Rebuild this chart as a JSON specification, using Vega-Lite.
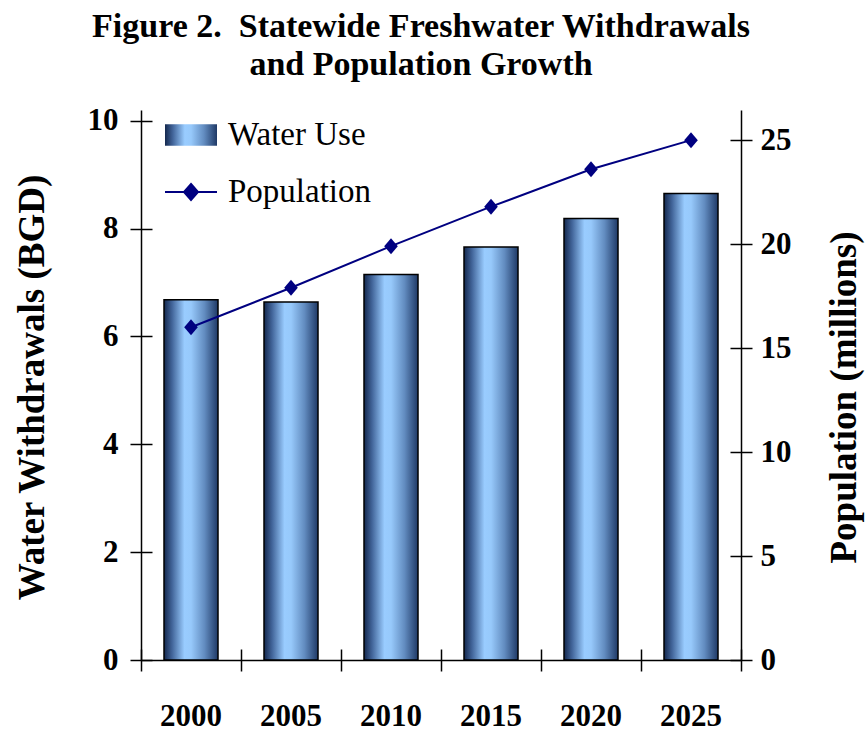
{
  "$schema": "https://vega.github.io/schema/vega-lite/v6.json",
  "autosize": "none",
  "padding": {"left": 141, "top": 110, "right": 124, "bottom": 72},
  "width": 600,
  "height": 550,
  "background": "white",
  "title": {
    "text": ["Figure 2.\u00a0 Statewide Freshwater Withdrawals", "and Population Growth"],
    "font": "Liberation Serif",
    "fontSize": 34,
    "fontWeight": "bold",
    "color": "black",
    "lineHeight": 38,
    "anchor": "middle",
    "dx": -20,
    "offset": 23
  },
  "data": {
    "values": [
      {"year": 2000, "water": 6.68, "population": 16.0},
      {"year": 2005, "water": 6.64, "population": 17.9},
      {"year": 2010, "water": 7.15, "population": 19.9},
      {"year": 2015, "water": 7.66, "population": 21.8},
      {"year": 2020, "water": 8.19, "population": 23.6},
      {"year": 2025, "water": 8.65, "population": 25.0}
    ]
  },
  "config": {
    "view": {"stroke": null},
    "axis": {
      "grid": false,
      "labelFont": "Liberation Serif",
      "titleFont": "Liberation Serif",
      "labelColor": "black",
      "titleColor": "black",
      "labelFontWeight": "bold",
      "titleFontWeight": "bold",
      "domainColor": "black",
      "tickColor": "black",
      "domainWidth": 1.5,
      "tickWidth": 1.5,
      "labelFontSize": 31,
      "titleFontSize": 37
    }
  },
  "layer": [
    {
      "mark": {
        "type": "bar",
        "stroke": "black",
        "strokeWidth": 1.5,
        "fill": {
          "gradient": "linear",
          "x1": 0, "y1": 0, "x2": 1, "y2": 0,
          "stops": [
            {"offset": 0, "color": "#14284e"},
            {"offset": 0.15, "color": "#42659a"},
            {"offset": 0.38, "color": "#99ccff"},
            {"offset": 0.5, "color": "#97c9fb"},
            {"offset": 0.75, "color": "#628cc0"},
            {"offset": 1, "color": "#1f3966"}
          ]
        }
      },
      "encoding": {
        "x": {
          "field": "year",
          "type": "ordinal",
          "scale": {"type": "band", "paddingInner": 0.46, "paddingOuter": 0.23},
          "axis": {
            "orient": "bottom",
            "title": null,
            "labelAngle": 0,
            "ticks": false,
            "tickSize": 0,
            "labelPadding": 41,
            "domain": true
          }
        },
        "y": {
          "field": "water",
          "type": "quantitative",
          "scale": {"domain": [0, 10.2], "nice": false, "zero": true},
          "axis": {
            "orient": "left",
            "values": [0, 2, 4, 6, 8, 10],
            "ticks": false,
            "tickSize": 0,
            "labelPadding": 23,
            "title": "Water Withdrawals (BGD)",
            "titleAngle": 270,
            "titleAlign": "center",
            "titleBaseline": "alphabetic",
            "titleX": -98,
            "titleY": 277
          }
        },
        "opacity": {
          "datum": "Water Use",
          "type": "ordinal",
          "scale": {"range": [1]},
          "legend": {
            "title": null,
            "orient": "none",
            "legendX": 23,
            "legendY": -2,
            "padding": 0,
            "labelFont": "Liberation Serif",
            "labelFontSize": 33,
            "labelFontWeight": "normal",
            "labelColor": "black",
            "labelOffset": 10,
            "labelLimit": 400,
            "symbolType": "M-1,-0.41H1V0.41H-1Z",
            "symbolSize": 2704,
            "symbolStrokeColor": "black",
            "symbolStrokeWidth": 1.5,
            "encode": {
              "symbols": {
                "update": {
                  "fill": {"value": {
                    "gradient": "linear",
                    "x1": 0, "y1": 0, "x2": 1, "y2": 0,
                    "stops": [
                      {"offset": 0, "color": "#14284e"},
                      {"offset": 0.15, "color": "#42659a"},
                      {"offset": 0.38, "color": "#99ccff"},
                      {"offset": 0.5, "color": "#97c9fb"},
                      {"offset": 0.75, "color": "#628cc0"},
                      {"offset": 1, "color": "#1f3966"}
                    ]
                  }},
                  "stroke": {"value": "black"},
                  "strokeWidth": {"value": 1.5},
                  "opacity": {"value": 1}
                }
              }
            }
          }
        }
      }
    },
    {
      "mark": {
        "type": "line",
        "strokeWidth": 2,
        "point": {
          "shape": "M-0.85,0L0,-1L0.85,0L0,1Z",
          "size": 256,
          "filled": true,
          "opacity": 1
        }
      },
      "encoding": {
        "x": {
          "field": "year",
          "type": "ordinal",
          "scale": {"type": "point", "padding": 0.5},
          "axis": null
        },
        "y": {
          "field": "population",
          "type": "quantitative",
          "scale": {"domain": [0, 26.45], "nice": false, "zero": true},
          "axis": {
            "orient": "right",
            "values": [0, 5, 10, 15, 20, 25],
            "ticks": false,
            "tickSize": 0,
            "labelPadding": 19,
            "title": "Population (millions)",
            "titleAngle": 270,
            "titleAlign": "center",
            "titleBaseline": "alphabetic",
            "titleX": 114,
            "titleY": 287
          }
        },
        "color": {
          "datum": "Population",
          "type": "nominal",
          "scale": {"range": ["#000080"]},
          "legend": {
            "title": null,
            "orient": "none",
            "legendX": 23,
            "legendY": 55,
            "padding": 0,
            "labelFont": "Liberation Serif",
            "labelFontSize": 33,
            "labelFontWeight": "normal",
            "labelColor": "black",
            "labelOffset": 10,
            "labelLimit": 400,
            "symbolType": "M-1,0H1M0,-0.31L0.27,0L0,0.31L-0.27,0Z",
            "symbolSize": 2704,
            "symbolStrokeWidth": 2,
            "symbolFillColor": "#000080",
            "symbolStrokeColor": "#000080",
            "encode": {
              "symbols": {
                "update": {
                  "fill": {"value": "#000080"},
                  "stroke": {"value": "#000080"},
                  "strokeWidth": {"value": 2},
                  "opacity": {"value": 1}
                }
              }
            }
          }
        }
      }
    },
    {
      "mark": {"type": "point", "opacity": 0},
      "encoding": {
        "x": {
          "field": "year",
          "type": "quantitative",
          "scale": {"domain": [1997.5, 2027.5], "nice": false, "zero": false},
          "axis": {
            "orient": "bottom",
            "values": [1997.5, 2002.5, 2007.5, 2012.5, 2017.5, 2022.5, 2027.5],
            "offset": -11,
            "tickSize": 22,
            "labels": false,
            "domain": false,
            "title": null
          }
        },
        "y": {
          "field": "water",
          "type": "quantitative",
          "scale": {"domain": [0, 10.2], "nice": false, "zero": true},
          "axis": {
            "orient": "left",
            "values": [0, 2, 4, 6, 8, 10],
            "offset": -11,
            "tickSize": 22,
            "labels": false,
            "domain": false,
            "title": null
          }
        }
      }
    },
    {
      "mark": {"type": "point", "opacity": 0},
      "encoding": {
        "y": {
          "field": "population",
          "type": "quantitative",
          "scale": {"domain": [0, 26.45], "nice": false, "zero": true},
          "axis": {
            "orient": "right",
            "values": [0, 5, 10, 15, 20, 25],
            "offset": -11,
            "tickSize": 22,
            "labels": false,
            "domain": false,
            "title": null
          }
        }
      }
    }
  ],
  "resolve": {
    "scale": {"x": "independent", "y": "independent"},
    "axis": {"x": "independent", "y": "independent"}
  }
}
